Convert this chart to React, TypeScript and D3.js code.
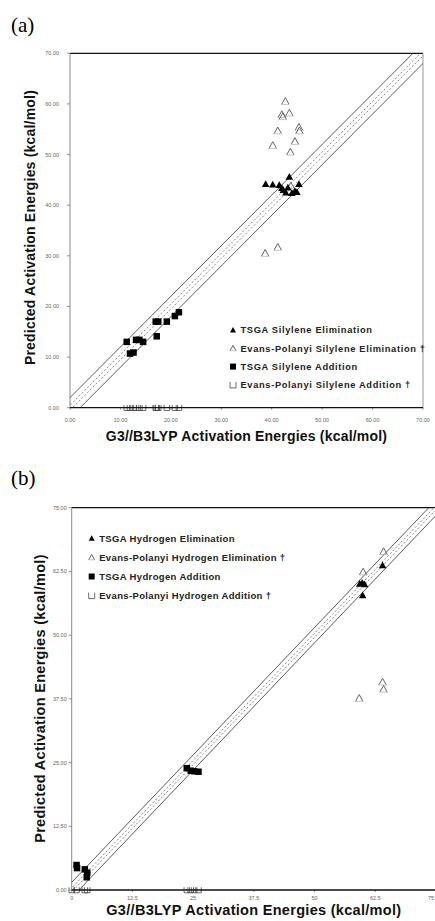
import React from "react";
import * as d3 from "d3";

// ---------- Panel (a): silylene reactions ----------
const aTickValues = [0, 10, 20, 30, 40, 50, 60, 70];
const aTickLabels = ["0.00", "10.00", "20.00", "30.00", "40.00", "50.00", "60.00", "70.00"];

const aTsgaElimX = [38.8, 40.2, 41.5, 42.0, 42.3, 42.8, 43.2, 43.5, 44.0, 44.6, 45.0, 45.4];
const aTsgaElimY = [44.2, 44.1, 44.0, 43.4, 43.0, 42.5, 43.5, 45.6, 42.4, 42.8, 42.6, 44.2];

const aEpElimX = [42.7, 42.0, 43.5, 42.2, 41.2, 45.4, 45.5, 40.2, 44.6, 43.7, 38.7, 41.2, 43.8];
const aEpElimY = [60.5, 57.9, 58.2, 57.5, 54.7, 55.4, 54.7, 51.8, 52.6, 50.5, 30.5, 31.7, 43.8];

const aTsgaAddX = [11.25, 11.9, 12.6, 13.1, 13.75, 14.5, 17.0, 17.5, 17.2, 19.2, 20.8, 21.6];
const aTsgaAddY = [13.0, 10.7, 10.9, 13.4, 13.4, 13.0, 17.0, 17.0, 14.1, 17.0, 18.1, 18.85];

const aEpAddX = [11.25, 11.9, 12.6, 13.1, 13.75, 14.5, 17.0, 17.5, 17.2, 19.2, 20.8, 21.6];
const aEpAddY = [0, 0, 0, 0, 0, 0, 0, 0, 0, 0, 0, 0];

const aLegend = [
  "TSGA Silylene Elimination",
  "Evans-Polanyi Silylene Elimination †",
  "TSGA Silylene Addition",
  "Evans-Polanyi Silylene Addition †",
];

// ---------- Panel (b): hydrogen reactions ----------
const bTickValues = [0, 12.5, 25, 37.5, 50, 62.5, 75];
const bYTickLabels = ["0.00", "12.50", "25.00", "37.50", "50.00", "62.50", "75.00"];
const bXTickLabels = ["0", "12.5", "25", "37.5", "50", "62.5", "75"];

const bTsgaElimX = [59.3, 60.3, 59.9, 64.0, 59.8];
const bTsgaElimY = [60.1, 60.0, 57.8, 63.7, 60.3];

const bEpElimX = [60.0, 64.2, 64.0, 64.2, 59.2];
const bEpElimY = [62.4, 66.4, 40.8, 39.4, 37.6];

const bTsgaAddX = [1.0, 1.1, 2.7, 3.2, 3.1, 23.7, 24.5, 25.2, 26.1];
const bTsgaAddY = [4.9, 4.3, 4.05, 3.4, 2.5, 23.9, 23.4, 23.3, 23.2];

const bEpAddX = [0.0, 1.0, 2.7, 3.2, 23.7, 24.5, 25.2, 26.1];
const bEpAddY = [0, 0, 0, 0, 0, 0, 0, 0];

const bLegend = [
  "TSGA Hydrogen Elimination",
  "Evans-Polanyi Hydrogen Elimination †",
  "TSGA Hydrogen Addition",
  "Evans-Polanyi Hydrogen Addition †",
];

const xTitle = "G3//B3LYP Activation Energies (kcal/mol)";
const yTitle = "Predicted Activation Energies (kcal/mol)";

type Kind = "triFill" | "triOpen" | "sqFill" | "sqOpen";

function Marker({ kind, x, y, s }: { kind: Kind; x: number; y: number; s: number }) {
  const h = s / 2;
  if (kind === "triFill") {
    return <path d={`M${x},${y - h}L${x + h},${y + h * 0.8}L${x - h},${y + h * 0.8}Z`} fill="#000" />;
  }
  if (kind === "triOpen") {
    return (
      <g fill="none">
        <path d={`M${x - h},${y + h * 0.8}L${x},${y - h}L${x + h},${y + h * 0.8}`} stroke="#555" strokeWidth={0.9} />
        <path d={`M${x - h},${y + h * 0.8}L${x + h},${y + h * 0.8}`} stroke="#aaa" strokeWidth={0.7} />
      </g>
    );
  }
  if (kind === "sqFill") {
    return <rect x={x - h} y={y - h} width={s} height={s} fill="#000" />;
  }
  return (
    <path
      d={`M${x - h},${y - h}L${x - h},${y + h}L${x + h},${y + h}L${x + h},${y - h}`}
      fill="none"
      stroke="#444"
      strokeWidth={0.8}
    />
  );
}

type Series = { kind: Kind; xs: number[]; ys: number[] };

function Panel(props: {
  id: string;
  left: number;
  right: number;
  top: number;
  bottom: number;
  domain: [number, number];
  ticks: number[];
  yLabels: string[];
  xLabels: string[];
  series: Series[];
  band: number;
  inner: number;
  legend: string[];
  legendX: number;
  legendY: number;
  legendDy: number;
  legendFont: number;
  legendWeight: number;
  legendSpacing: number;
  yTitleX: number;
  yTitleY: number;
  titleSize: number;
  titleSpacing: number;
  xTitleY: number;
  yLabelGap: number;
  xLabelY: number;
}) {
  const p = props;
  const x = d3.scaleLinear().domain(p.domain).range([p.left, p.right]);
  const y = d3.scaleLinear().domain(p.domain).range([p.bottom, p.top]);
  const [d0, d1] = p.domain;
  const lineGen = d3
    .line<[number, number]>()
    .x((d) => x(d[0]))
    .y((d) => y(d[1]));
  const diag = (off: number) =>
    lineGen([
      [d0 - 10, d0 - 10 + off],
      [d1 + 10, d1 + 10 + off],
    ]) as string;
  const legendKinds: Kind[] = ["triFill", "triOpen", "sqFill", "sqOpen"];
  return (
    <g>
      <defs>
        <clipPath id={`clip-${p.id}`}>
          <rect x={p.left} y={p.top} width={p.right - p.left} height={p.bottom - p.top} />
        </clipPath>
      </defs>
      {/* frame */}
      <line x1={p.left} x2={p.right} y1={p.top} y2={p.top} stroke="#111" strokeWidth={1.3} />
      <line x1={p.right} x2={p.right} y1={p.top} y2={p.bottom} stroke="#999" strokeWidth={1} />
      <line x1={p.left} x2={p.left} y1={p.top} y2={p.bottom} stroke="#888" strokeWidth={1} />
      {/* diagonal bands */}
      <g clipPath={`url(#clip-${p.id})`} fill="none">
        <path d={diag(p.band)} stroke="#333" strokeWidth={0.8} />
        <path d={diag(-p.band)} stroke="#333" strokeWidth={0.8} />
        <path d={diag(p.inner)} stroke="#555" strokeWidth={0.7} strokeDasharray="2,2" />
        <path d={diag(-p.inner)} stroke="#555" strokeWidth={0.7} strokeDasharray="2,2" />
      </g>
      {/* y ticks */}
      {p.ticks.map((t, i) => (
        <g key={`yt${i}`}>
          <line x1={p.left - 3} x2={p.left} y1={y(t)} y2={y(t)} stroke="#777" strokeWidth={0.8} />
          <text
            x={p.left - p.yLabelGap}
            y={y(t) + 2}
            textAnchor="end"
            fontSize={5.5}
            fill="#666"
            fontFamily="Liberation Sans, Arial, sans-serif"
          >
            {p.yLabels[i]}
          </text>
        </g>
      ))}
      {/* x ticks */}
      {p.ticks.map((t, i) => (
        <g key={`xt${i}`}>
          <line x1={x(t)} x2={x(t)} y1={p.bottom} y2={p.bottom + 2} stroke="#777" strokeWidth={0.8} />
          <text
            x={x(t) > 425 ? 434 : x(t)}
            y={p.xLabelY}
            textAnchor={x(t) > 425 ? "end" : "middle"}
            fontSize={5.5}
            fill="#666"
            fontFamily="Liberation Sans, Arial, sans-serif"
          >
            {p.xLabels[i]}
          </text>
        </g>
      ))}
      {/* data */}
      {p.series.map((s, si) => (
        <g key={`s${si}`}>
          {s.xs.map((v, i) => (
            <Marker
              key={i}
              kind={s.kind}
              x={x(v)}
              y={y(s.ys[i])}
              s={s.kind === "sqOpen" ? 5.5 : s.kind === "sqFill" ? 6.5 : 7.5}
            />
          ))}
        </g>
      ))}
      {/* bottom axis (drawn over markers) */}
      <line x1={p.left} x2={p.right} y1={p.bottom} y2={p.bottom} stroke="#111" strokeWidth={1.3} />
      {/* legend */}
      {p.legend.map((lab, i) => (
        <g key={`lg${i}`}>
          <Marker kind={legendKinds[i]} x={p.legendX} y={p.legendY + i * p.legendDy} s={6} />
          <text
            x={p.legendX + 7.5}
            y={p.legendY + i * p.legendDy + 3.3}
            fontSize={p.legendFont}
            fontWeight={p.legendWeight}
            letterSpacing={p.legendSpacing}
            fill="#222"
            fontFamily="Liberation Sans, Arial, sans-serif"
          >
            {lab}
          </text>
        </g>
      ))}
      {/* titles */}
      <text
        transform={`translate(${p.yTitleX},${p.yTitleY}) rotate(-90)`}
        textAnchor="middle"
        dominantBaseline="middle"
        fontSize={p.titleSize}
        fontWeight="bold"
        letterSpacing={p.titleSpacing}
        fill="#111"
        fontFamily="Liberation Sans, Arial, sans-serif"
      >
        {yTitle}
      </text>
      <text
        x={(p.left + p.right) / 2}
        y={p.xTitleY}
        textAnchor="middle"
        fontSize={p.titleSize}
        fontWeight="bold"
        letterSpacing={p.titleSpacing}
        fill="#111"
        fontFamily="Liberation Sans, Arial, sans-serif"
      >
        {xTitle}
      </text>
    </g>
  );
}

export default function App() {
  return (
    <svg
      width={435}
      height={921}
      viewBox="0 0 435 921"
      style={{ position: "absolute", left: 0, top: 0, background: "#fff" }}
    >
      <rect width={435} height={921} fill="#fff" />
      <text x={11} y={32} fontSize={21} fontFamily="Liberation Serif, Times New Roman, serif" fill="#000">
        (a)
      </text>
      <text x={11} y={485} fontSize={21} fontFamily="Liberation Serif, Times New Roman, serif" fill="#000">
        (b)
      </text>
      <Panel
        id="a"
        left={70}
        right={423}
        top={53.3}
        bottom={407.7}
        domain={[0, 70]}
        ticks={aTickValues}
        yLabels={aTickLabels}
        xLabels={aTickLabels}
        series={[
          { kind: "sqOpen", xs: aEpAddX, ys: aEpAddY },
          { kind: "triOpen", xs: aEpElimX, ys: aEpElimY },
          { kind: "triFill", xs: aTsgaElimX, ys: aTsgaElimY },
          { kind: "sqFill", xs: aTsgaAddX, ys: aTsgaAddY },
        ]}
        band={2}
        inner={0.5}
        legend={aLegend}
        legendX={233}
        legendY={330}
        legendDy={18.3}
        legendFont={9.3}
        legendWeight={700}
        legendSpacing={0.65}
        yTitleX={31}
        yTitleY={227.5}
        titleSize={14}
        titleSpacing={0.2}
        xTitleY={441}
        yLabelGap={11}
        xLabelY={421.5}
      />
      <Panel
        id="b"
        left={71.7}
        right={436}
        top={507.7}
        bottom={890}
        domain={[0, 75]}
        ticks={bTickValues}
        yLabels={bYTickLabels}
        xLabels={bXTickLabels}
        series={[
          { kind: "sqOpen", xs: bEpAddX, ys: bEpAddY },
          { kind: "triOpen", xs: bEpElimX, ys: bEpElimY },
          { kind: "triFill", xs: bTsgaElimX, ys: bTsgaElimY },
          { kind: "sqFill", xs: bTsgaAddX, ys: bTsgaAddY },
        ]}
        band={1.5}
        inner={0.4}
        legend={bLegend}
        legendX={91.7}
        legendY={538.3}
        legendDy={19.1}
        legendFont={9.5}
        legendWeight={600}
        legendSpacing={0.35}
        yTitleX={41.5}
        yTitleY={698.5}
        titleSize={14.5}
        titleSpacing={0.3}
        xTitleY={915}
        yLabelGap={5}
        xLabelY={900}
      />
    </svg>
  );
}
